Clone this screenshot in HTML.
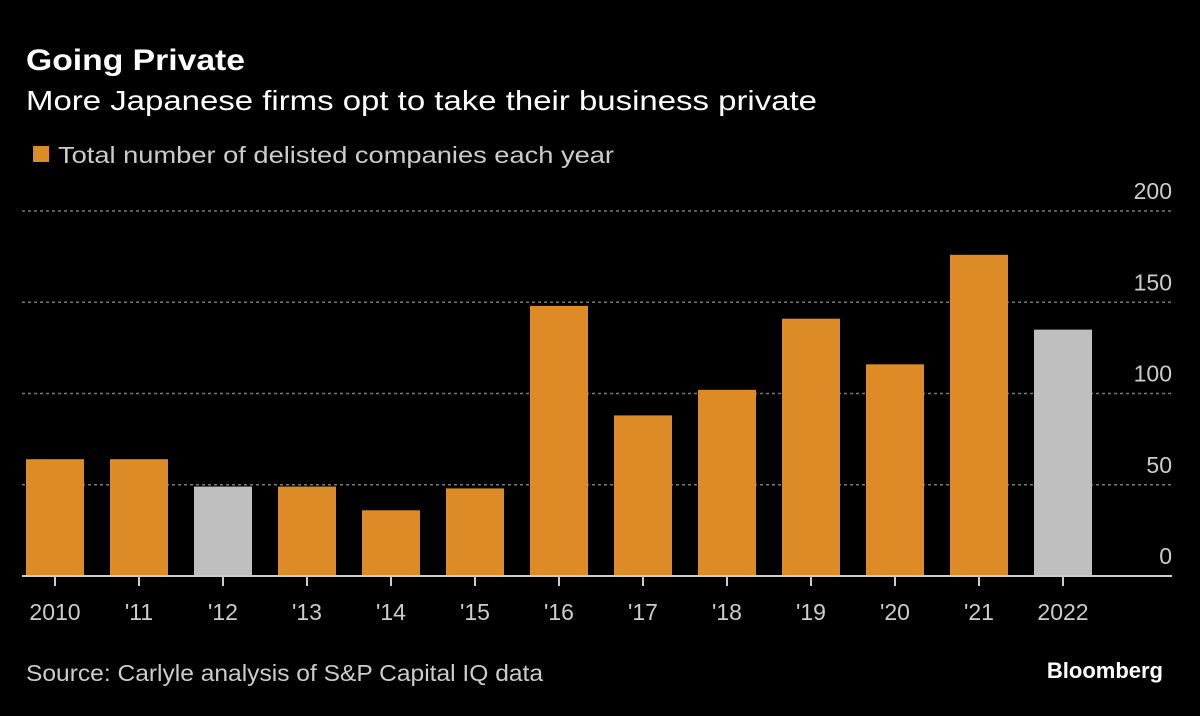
<!DOCTYPE html>
<html><head><meta charset="utf-8"><style>
body{margin:0;background:#000;width:1200px;height:711px;overflow:hidden;font-family:"Liberation Sans",sans-serif;color:#fff}
</style></head><body>
<svg width="1200" height="711" xmlns="http://www.w3.org/2000/svg">
<text x="26" y="70" font-size="30" font-weight="bold" fill="#fff" textLength="219" lengthAdjust="spacingAndGlyphs">Going Private</text>
<text x="26" y="110" font-size="28" fill="#fff" textLength="791" lengthAdjust="spacingAndGlyphs">More Japanese firms opt to take their business private</text>
<rect x="33" y="146" width="16" height="16" fill="#dc8b26"/>
<text x="58" y="163" font-size="23" fill="#ccc" textLength="556" lengthAdjust="spacingAndGlyphs">Total number of delisted companies each year</text>
<g id="grid"></g><g id="bars"></g><g id="xlabels"></g>
<line x1="22" y1="576" x2="1172" y2="576" stroke="#ccc" stroke-width="2"/>
<text x="26" y="681" font-size="23" fill="#ccc" textLength="517" lengthAdjust="spacingAndGlyphs">Source: Carlyle analysis of S&amp;P Capital IQ data</text>
<text x="1163" y="678" font-size="22" font-weight="bold" fill="#fff" text-anchor="end">Bloomberg</text>
</svg>
<script>
const categories=["2010","'11","'12","'13","'14","'15","'16","'17","'18","'19","'20","'21","2022"];
const values=[64,64,49,49,36,48,148,88,102,141,116,176,135];
const highlighted=[false,false,true,false,false,false,false,false,false,false,false,false,true];
const yTicks=[0,50,100,150,200];
const NS="http://www.w3.org/2000/svg";
const y=v=>576-v*1.825;
const x=i=>26+i*84;
const bw=58;
const grid=document.getElementById('grid'),bars=document.getElementById('bars'),xl=document.getElementById('xlabels');
function mk(tag,attrs,parent){const e=document.createElementNS(NS,tag);for(const k in attrs)e.setAttribute(k,attrs[k]);parent.appendChild(e);return e;}
yTicks.forEach(t=>{
 if(t>0){const l=mk('line',{x1:22,x2:1172,y1:y(t),y2:y(t),stroke:'#777','stroke-width':1.5,'stroke-dasharray':'3,3'},grid);
 
 }
 const tx=mk('text',{x:1172,y:y(t)-12,'font-size':23,fill:'#ccc','text-anchor':'end'},grid);
 tx.textContent=t;
 
 
});
categories.forEach((c,i)=>{
 const r=mk('rect',{x:x(i),y:y(values[i]),width:bw,height:576-y(values[i]),fill:highlighted[i]?'#bfbfbf':'#dc8b26'},bars);
 
 
 const tk=mk('line',{x1:x(i)+bw/2,x2:x(i)+bw/2,y1:576,y2:586,stroke:'#ccc','stroke-width':2},xl);
 
 
 const t=mk('text',{x:x(i)+bw/2,y:620,'font-size':23,fill:'#ccc','text-anchor':'middle'},xl);
 t.textContent=c;
 
 
});
</script>
</body></html>
